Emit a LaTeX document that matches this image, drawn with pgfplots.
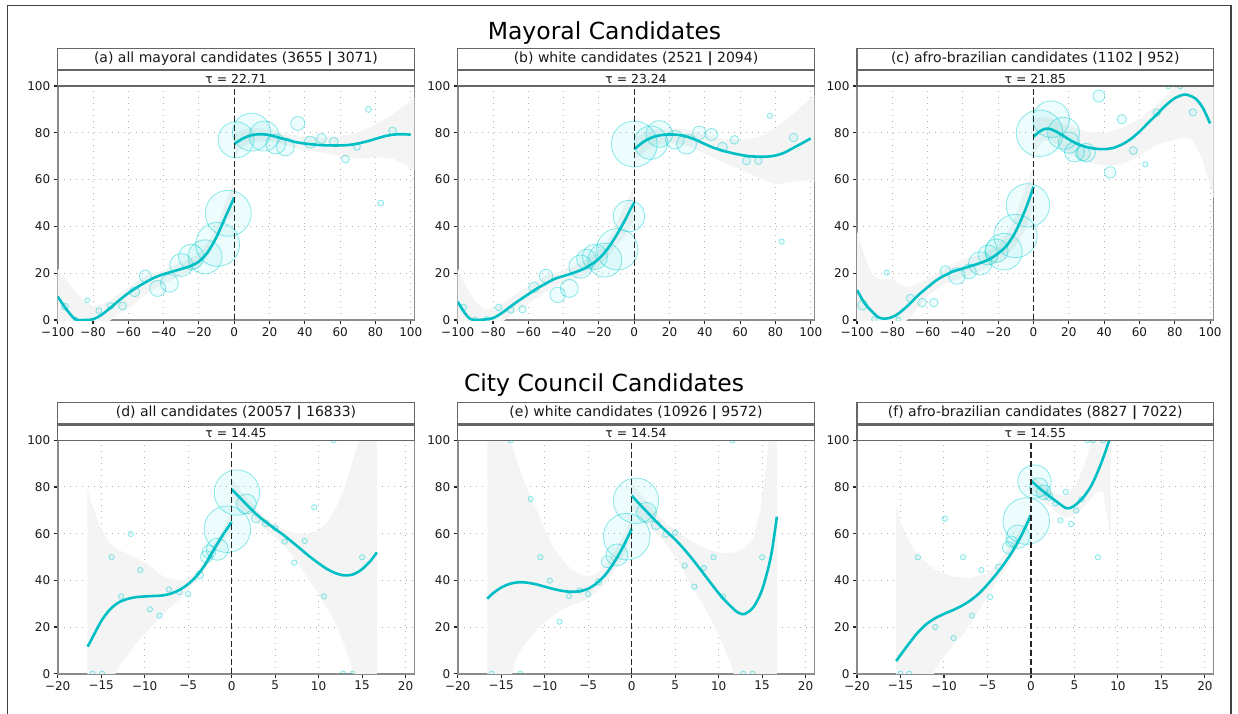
\documentclass[border=0pt]{standalone}
\usepackage{fontspec}
\setmainfont{DejaVu Sans}
\usepackage{pgfplots}
\pgfplotsset{compat=1.18}
\definecolor{fitc}{HTML}{00BFC4}
\definecolor{bubc}{HTML}{00CED1}
\definecolor{bandc}{HTML}{F4F4F4}
\definecolor{gridc}{HTML}{B0B0B0}
\pgfplotsset{
  panel/.style={
    scale only axis, width=356.6pt, anchor=south west,
    axis line style={draw=black!45, line width=1.6pt},
    tick align=outside, xtick pos=bottom, ytick pos=left,
    major tick length=4pt,
    tick style={draw=black!85, line width=1.1pt},
    ymin=0, ymax=100, ytick={0,20,40,60,80,100}, yticklabels={0,20,40,60,80,100},
    xmajorgrids, ymajorgrids, grid style={draw=gridc, line width=1pt, dash pattern=on 1pt off 5pt},
    tick label style={font=\fontsize{12}{14}\selectfont, text=black!90},
    clip marker paths=true,
  },
  toprow/.style={height=234pt, xmin=-100, xmax=102, xtick={-100,-80,...,100},
     xticklabels={−100,−80,−60,−40,−20,0,20,40,60,80,100}},
  botrow/.style={height=233.4pt, xmin=-20, xmax=21, xtick={-20,-15,...,20},
     xticklabels={−20,−15,−10,−5,0,5,10,15,20}},
  band/.style={fill=bandc, draw=none, forget plot},
  fit/.style={color=fitc, line width=2.6pt, smooth, no marks},
  bub/.style={scatter, only marks, mark=*,
     scatter/use mapped color={draw=bubc, fill=bubc},
     visualization depends on={\thisrow{r}\as\rr},
     scatter/@pre marker code/.append style={/tikz/mark size=\rr pt},
     mark options={draw opacity=0.45, fill opacity=0.07, line width=0.8pt}},
  zline/.style={black!85, line width=1.1pt, dash pattern=on 6pt off 3pt},
}
\tikzset{strip/.style={draw=black!60, line width=1.2pt, fill=white}}
\begin{document}
\begin{tikzpicture}[x=1pt,y=1pt]
%% ---------- (a)
\begin{axis}[panel, toprow, at={(57.7pt,393pt)}]
\addplot[band] coordinates {(-100,22)(-95,17)(-90,12)(-85,8)(-80,6)(-75,7)(-70,8.5)(-60,14)(-50,19)(-40,21.5)(-30,24.5)(-20,28)(-15,33)(-10,39.5)(-5,50)(0,60)
 (0,45)(-5,42)(-10,35)(-15,27)(-20,22)(-30,19)(-40,15.5)(-50,11)(-60,5)(-70,0)(-80,-5)(-90,-5)(-100,-5)};
\addplot[band] coordinates {(0,80)(5,81)(10,82)(15,82)(20,81.5)(30,79.5)(40,78.5)(50,78)(60,78.5)(70,80)(80,83.5)(90,88)(100,94)(102,95)
 (102,64)(100,65)(90,69)(80,69.5)(70,69)(60,70)(50,71.5)(40,72.5)(30,74.5)(20,76.5)(10,76)(5,74)(0,70)};
\addplot[bub] table[row sep=\\] {x y r\\
1 77 18\\ 9.8 80.3 19\\ 16.9 78.6 15\\ 23.5 75.2 10\\ 29 74 9\\ 36 84 7\\ 43 76 6\\ 49.4 77.6 5\\ 56.4 76.2 4.5\\ 63 68.8 4\\ 69.5 74 3.5\\ 76 90 3\\ 83 50 3\\ 89.7 80.8 4\\
-3.4 45.6 23\\ -9.4 32.3 22\\ -16.5 27 17\\ -24.4 27 12.7\\ -30 23.5 11.5\\ -36.7 15.7 9\\ -43.4 13.5 8\\ -50.4 18.8 6\\ -56.4 12 5\\ -63.3 6 4\\ -70 6 3.5\\ -76.7 4 3\\ -83.3 8.4 2.5\\ -89.7 0.3 2\\ -95.9 5.7 3.5\\
};
\addplot[fit] coordinates {(-100,10)(-95,4.5)(-90,0.3)(-85,0)(-80,0.3)(-75,2.3)(-70,5.3)(-65,8.5)(-60,11.5)(-55,14)(-50,16.2)(-45,18.2)(-40,19.6)(-35,20.7)(-30,21.8)(-25,23)(-20,25)(-15,29)(-10,35.5)(-5,44)(-2,49)(0,52.4)};
\addplot[fit] coordinates {(0,75.2)(5,77.6)(10,79)(15,79.4)(20,79)(25,78)(30,77)(35,76)(40,75.4)(45,75)(50,74.7)(55,74.6)(60,74.6)(65,74.8)(70,75.4)(75,76.3)(80,77.4)(85,78.5)(90,79.2)(95,79.4)(100,79.2)};
\addplot[zline] coordinates {(0,0)(0,100)};
\end{axis}
%% ---------- (b)
\begin{axis}[panel, toprow, at={(457.7pt,393pt)}]
\addplot[band] coordinates {(-100,22)(-95,14)(-90,8)(-85,4.5)(-80,5)(-75,7)(-70,9.5)(-60,14.5)(-50,19)(-40,21.5)(-30,24.5)(-20,30)(-15,34)(-10,41)(-5,50)(0,57)
 (0,43)(-5,36)(-10,31.5)(-15,27)(-20,22.5)(-30,18.3)(-40,16)(-50,12)(-60,7)(-70,2)(-80,-4)(-100,-4)};
\addplot[band] coordinates {(0,78)(10,81)(20,82)(30,81.5)(40,79)(50,77.5)(60,77)(70,78)(80,82)(90,88)(100,95)(102,96)
 (102,59)(100,60)(90,59)(80,58)(70,61)(60,64.5)(50,67.5)(40,71)(30,74.5)(20,76)(10,74.5)(0,68)};
\addplot[bub] table[row sep=\\] {x y r\\
-3 44.4 15.7\\ -9.6 30.2 20.7\\ -16.6 25.6 17\\ -22.3 27 12.7\\ -27 26 10\\ -30.4 22.8 11.7\\ -36.8 13.5 9\\ -43.4 10.7 7.7\\ -50 18.8 6.7\\ -56.8 14 5.3\\ -63.3 4.6 3.7\\ -70 4.3 3.3\\ -76.8 5.4 3.3\\ -83.6 0.3 2.7\\ -90.2 0.3 2.3\\ -96.8 5.4 3.3\\
0 75.2 23\\ 9.4 75.8 16.7\\ 14.2 79.5 13.3\\ 23 77 9.3\\ 29.6 75.2 10\\ 36.8 80 6.7\\ 43.8 79.3 6\\ 50 73.8 5\\ 56.8 77 4.3\\ 63.6 68 4\\ 70.3 68 3.7\\ 76.9 87.3 2.7\\ 83.5 33.5 2.7\\ 90.2 78 4.3\\
};
\addplot[fit] coordinates {(-100,7.8)(-96,3)(-93,0.5)(-90,0)(-85,0.2)(-80,0.8)(-75,3)(-70,5.8)(-65,8.5)(-60,11)(-55,13.5)(-50,15.6)(-45,17.6)(-40,18.8)(-35,20)(-30,21.4)(-25,23.4)(-20,26.2)(-15,30.5)(-10,36.3)(-5,43)(-2,47.5)(0,50.1)};
\addplot[fit] coordinates {(0,73)(5,76)(10,78)(15,79)(20,79.3)(25,79.1)(30,78.3)(35,76.9)(40,75.2)(45,73.6)(50,72.4)(55,71.4)(60,70.6)(65,70)(70,69.8)(75,69.8)(80,70.3)(85,71.5)(90,73.5)(95,75.5)(100,77.6)};
\addplot[zline] coordinates {(0,0)(0,100)};
\end{axis}
%% ---------- (c)
\begin{axis}[panel, toprow, at={(857pt,393pt)}]
\addplot[band] coordinates {(-100,38)(-96,28)(-92,20)(-88,17.5)(-84,17.5)(-80,17.5)(-75,15)(-70,14)(-60,17.5)(-50,22.5)(-40,26)(-30,27.8)(-20,32)(-15,37)(-10,45)(-5,56)(0,65)
 (0,48)(-5,38)(-10,32)(-15,28)(-20,24.5)(-30,21)(-40,18)(-50,15.5)(-60,10.5)(-70,1)(-80,-5)(-100,-5)};
\addplot[band] coordinates {(0,86)(5,87)(10,86)(20,83)(30,80.5)(40,80)(50,82)(60,86)(70,92)(80,100)(102,110)
 (102,52)(100,58)(95,70)(90,77)(85,78)(80,77)(70,75)(60,70)(50,66.5)(40,66)(30,67.5)(20,71)(10,77)(5,76.5)(0,71)};
\addplot[bub] table[row sep=\\] {x y r\\
-3.2 49 21.7\\ -10.2 35.9 21.7\\ -16.8 29.2 18.3\\ -21 29.6 11.7\\ -25.8 27.8 10\\ -30.2 24.2 11.7\\ -36.6 20.7 7.3\\ -43.4 18.8 8.3\\ -50 21 5.3\\ -56.5 7.4 4.3\\ -63.1 7.4 4.3\\ -69.7 9.3 4\\ -76.6 0.3 2.3\\ -83.2 20.2 2.7\\ -90.2 0.3 2.7\\ -96.8 6.4 5\\
3.4 79.8 23.3\\ 10 85.8 18.3\\ 17 79.8 16\\ 20 75.8 10.7\\ 23.2 71.8 10\\ 27.9 71.2 7.3\\ 29.8 71.5 9.3\\ 37 95.7 6\\ 43.4 63.1 5.7\\ 50 85.8 4.7\\ 56.5 72.4 4\\ 63.3 66.5 2.7\\ 69.9 88.7 3.7\\ 76.5 99.7 2.3\\ 83.1 99.7 2.3\\ 90.2 88.7 3.7\\
};
\addplot[fit] coordinates {(-100,12.8)(-96,7.5)(-92,4)(-88,1.2)(-85,0.6)(-82,0.8)(-78,2)(-74,4.3)(-70,7)(-65,10.8)(-60,14)(-55,17)(-50,19.2)(-45,20.9)(-40,22)(-35,23.2)(-30,24.4)(-25,26)(-20,28.5)(-15,32)(-10,38)(-5,46.5)(-2,52.5)(0,57)};
\addplot[fit] coordinates {(0,78.3)(3,80.3)(6,81.6)(9,81.7)(12,80.8)(15,79.6)(20,77.2)(25,75.2)(30,73.9)(35,73.2)(40,73)(45,73.5)(50,75)(55,77.3)(60,80.5)(65,84.3)(70,88)(75,91.8)(80,94.8)(85,96.3)(88,96)(92,94.5)(96,90.5)(100,84)};
\addplot[zline] coordinates {(0,0)(0,100)};
\end{axis}
%% ---------- (d)
\begin{axis}[panel, botrow, at={(57.7pt,39.3pt)}]
\addplot[band] coordinates {(-16.6,79)(-16,72)(-15,62)(-14,56)(-13,53)(-12,51.5)(-11,49.5)(-10,47.5)(-9,45)(-8,42)(-7,40.5)(-6,40)(-5,40.5)(-4,43.5)(-3,49)(-2,55.5)(-1,62)(0,69)
 (0,61)(-1,57)(-2,51.5)(-3,45)(-4,40.5)(-5,36)(-6,32)(-7,28.5)(-8,25)(-9,21)(-10,17)(-11,13)(-12,8)(-13,3)(-14,-5)(-16.6,-5)};
\addplot[band] coordinates {(0,84)(1,78.5)(2,74)(3,70)(4,66.5)(5,64)(6,62)(7,60.5)(8,60)(9,60)(10,61.5)(11,65)(12,71)(13,80)(14,92)(15,105)(16.7,110)
 (16.7,-5)(15,-5)(14,0)(13,12)(12,21)(11,28)(10,34)(9,39.5)(8,45)(7,50.5)(6,55)(5,58.5)(4,61.5)(3,64.5)(2,68)(1,71)(0,74)};
\addplot[bub] table[row sep=\\] {x y r\\
-0.5 61.9 23.3\\ -1.65 53.3 11\\ -2.6 52.3 6.7\\ -2.9 50.1 6\\ -3.7 42.3 4\\ -5 34.1 2.7\\ -6 34.9 2.7\\ -7.2 36.1 2.7\\ -8.3 24.9 2.7\\ -9.4 27.6 2.7\\ -10.5 44.4 2.7\\ -11.6 59.9 2.7\\ -12.7 33.1 2.7\\ -13.8 49.9 2.7\\ -14.9 0 2.7\\ -16 0 2.7\\
0.6 77.6 22.7\\ 1.7 72.7 10\\ 2.8 66.6 4.7\\ 3.9 64.4 3.3\\ 5 62.4 2.7\\ 6.1 56.6 2.7\\ 7.2 47.6 2.7\\ 8.4 56.9 2.7\\ 9.5 71.3 2.7\\ 10.6 33.1 2.7\\ 11.7 100 2.7\\ 12.8 0 2.7\\ 13.9 0 2.7\\ 15 49.9 2.7\\
};
\addplot[fit] coordinates {(-16.55,11.6)(-16,15.5)(-15,22.5)(-14,27.5)(-13,30.5)(-12,32)(-11,32.8)(-10,33.1)(-9,33.3)(-8,33.5)(-7,34.3)(-6,35.9)(-5,38.4)(-4,42)(-3,47)(-2,53.5)(-1,59.5)(0,65)};
\addplot[fit] coordinates {(0,79)(1,75.2)(2,71.4)(3,67.8)(4,64.8)(5,62)(6,59.3)(7,56.3)(8,53.2)(9,50.1)(10,47.3)(11,44.8)(12,43)(13,42.1)(14,42.6)(15,44.8)(16,48.5)(16.7,52)};
\addplot[zline] coordinates {(0,0)(0,100)};
\end{axis}
%% ---------- (e)
\begin{axis}[panel, botrow, at={(457.7pt,39.3pt)}]
\addplot[band] coordinates {(-16.6,110)(-14.5,105)(-13.5,95)(-12.8,87)(-12,79)(-11,71)(-10,62)(-9,54)(-8,49)(-7,45)(-6,42.5)(-5,41.6)(-4,43)(-3,47)(-2,52)(-1,59)(0,67)
 (0,58)(-1,50)(-2,44)(-3,38.5)(-4,35)(-5,32)(-6,30.5)(-7,29.4)(-8,27.5)(-9,25)(-10,22)(-11,18.5)(-12,14)(-12.8,10)(-13.5,4)(-14,-5)(-16.6,-5)};
\addplot[band] coordinates {(0,82)(1,77)(2,72.5)(3,68)(4,64.5)(5,61.5)(6,59)(7,56.5)(8,54.5)(9,53)(10,52)(11,51.5)(12,52)(13,54)(14,58)(14.8,70)(15.5,90)(16,110)(16.7,110)
 (16.7,-5)(12,-5)(11.6,2)(11,8)(10,17)(9,24)(8,31)(7,37)(6,43.5)(5,50)(4,55.5)(3,59.5)(2,63)(1,66.5)(0,70)};
\addplot[bub] table[row sep=\\] {x y r\\
-0.57 58.7 23.3\\ -1.7 50.9 11\\ -2.8 48 6\\ -3.8 39.4 3.3\\ -5 34.1 2.7\\ -6 35.6 2.7\\ -7.2 33.3 2.7\\ -8.3 22.3 2.7\\ -9.4 39.9 2.7\\ -10.5 49.9 2.7\\ -11.6 74.9 2.7\\ -12.8 0 2.7\\ -13.9 100 2.7\\ -16.1 0 2.7\\
0.5 74.1 22.7\\ 1.7 69.1 10\\ 2.8 63.7 4.7\\ 3.9 59.7 3\\ 5 60.4 2.7\\ 6.1 46.3 2.7\\ 7.2 37.3 2.7\\ 8.3 45.3 2.7\\ 9.4 49.9 2.7\\ 10.5 33.1 2.7\\ 11.6 100 2.7\\ 12.8 0 2.7\\ 13.9 0 2.7\\ 15 49.9 2.7\\
};
\addplot[fit] coordinates {(-16.6,32.1)(-16,34.3)(-15,36.9)(-14,38.5)(-13,39.2)(-12,39)(-11,38.3)(-10,37.3)(-9,36.3)(-8,35.5)(-7,35.1)(-6,35.3)(-5,36.4)(-4,38.8)(-3,42.5)(-2,47.8)(-1,54.3)(0,62)};
\addplot[fit] coordinates {(0,76.3)(1,72.3)(2,68.4)(3,64.5)(4,61)(5,57.5)(6,53.5)(7,49)(8,44.2)(9,39.3)(10,34.5)(11,30.3)(12,26.8)(12.5,25.8)(13,25.6)(14,28.5)(15,36)(16,50)(16.7,67.3)};
\addplot[zline] coordinates {(0,0)(0,100)};
\end{axis}
%% ---------- (f)
\begin{axis}[panel, botrow, at={(857pt,39.3pt)}]
\addplot[band] coordinates {(-15.5,72)(-15,65)(-14.3,58.7)(-13.5,53.5)(-12.8,50)(-11,44.5)(-9,41.6)(-7,41)(-5,43)(-4,46.5)(-3,51.5)(-2,57)(-1,63)(0,70)
 (0,66)(-1,58)(-2,51)(-3,44)(-4,39)(-5,33)(-6,27)(-7,21)(-8,16)(-9,12)(-10,7)(-11,2)(-11.5,-5)(-15.5,-5)};
\addplot[band] coordinates {(0,86)(1,82)(2,79)(3,77)(4,76)(5,80)(6,88)(7,100)(7.5,110)(9.2,110)
 (9.2,60)(9,62)(8.6,70)(8.3,78)(7.5,78)(7,75.5)(6,71)(5,68)(4,66.5)(3,69)(2,72)(1,76)(0,79)};
\addplot[bub] table[row sep=\\] {x y r\\
-0.54 65.4 23.3\\ -1.5 58.7 11.7\\ -2.25 56.6 5.7\\ -2.6 54 6\\ -3.7 45.6 3.3\\ -4.7 32.9 2.7\\ -5.7 44.4 2.7\\ -6.8 24.9 2.7\\ -7.8 49.9 2.7\\ -8.9 15.3 2.7\\ -9.9 66.4 2.7\\ -11 20 2.7\\ -13 49.9 2.7\\ -14 0 2.7\\ -15 0 2.7\\
0.4 82.3 16.7\\ 0.9 79.9 9.3\\ 1.45 77.7 7.3\\ 2.1 75.9 4\\ 2.8 73 2.7\\ 3.4 65.7 2.7\\ 4 77.9 2.7\\ 4.6 64.1 2.7\\ 5.2 69.9 2.7\\ 5.8 74.7 2.7\\ 6.5 100 2.7\\ 7.1 100 2.7\\ 7.7 49.9 2.7\\ 8.3 100 2.7\\
};
\addplot[fit] coordinates {(-15.5,5.4)(-15,8)(-14,13)(-13,17.7)(-12,21.3)(-11,23.8)(-10,25.6)(-9,27.2)(-8,29)(-7,31.3)(-6,34.3)(-5,38.2)(-4,42.6)(-3,47.5)(-2,53.2)(-1,60)(0,68)};
\addplot[fit] coordinates {(0,82.7)(1,79.4)(2,76.4)(3,73.6)(3.5,72.2)(4,71)(4.5,71)(5,72)(5.5,73.6)(6,75.5)(6.5,78)(7,81)(7.5,85)(8,89.5)(8.5,94.5)(9,100)(9.2,102)};
\addplot[zline] coordinates {(0,0)(0,100)};
\end{axis}
%% ---------- strips and titles
\draw[strip] (57.7,664.7) rectangle (414.3,643.5);
\draw[strip] (57.7,642.3) rectangle (414.3,627);
\draw[strip] (457.7,664.7) rectangle (814.3,643.5);
\draw[strip] (457.7,642.3) rectangle (814.3,627);
\draw[strip] (857,664.7) rectangle (1213.6,643.5);
\draw[strip] (857,642.3) rectangle (1213.6,627);
\draw[strip] (57.7,310.5) rectangle (414.3,289);
\draw[strip] (57.7,287.8) rectangle (414.3,272.7);
\draw[strip] (457.7,310.5) rectangle (814.3,289);
\draw[strip] (457.7,287.8) rectangle (814.3,272.7);
\draw[strip] (857,310.5) rectangle (1213.6,289);
\draw[strip] (857,287.8) rectangle (1213.6,272.7);
\begin{scope}[every node/.style={font=\fontsize{14}{16}\selectfont, text=black!90, inner sep=0pt}]
\node at (236,654.1) {(a) all mayoral candidates (3655 {\bfseries|} 3071)};
\node at (636,654.1) {(b) white candidates (2521 {\bfseries|} 2094)};
\node at (1035.3,654.1) {(c) afro-brazilian candidates (1102 {\bfseries|} 952)};
\node at (236,299.7) {(d) all candidates (20057 {\bfseries|} 16833)};
\node at (636,299.7) {(e) white candidates (10926 {\bfseries|} 9572)};
\node at (1035.3,299.7) {(f) afro-brazilian candidates (8827 {\bfseries|} 7022)};
\end{scope}
\begin{scope}[every node/.style={font=\fontsize{12.4}{14}\selectfont, text=black!90, inner sep=0pt}]
\node at (236,634.5) {τ = 22.71};
\node at (636,634.5) {τ = 23.24};
\node at (1035.3,634.5) {τ = 21.85};
\node at (236,279.9) {τ = 14.45};
\node at (636,279.9) {τ = 14.54};
\node at (1035.3,279.9) {τ = 14.55};
\end{scope}
\node[font=\fontsize{23.5}{26}\selectfont, anchor=base, inner sep=0pt] at (604.5,673) {Mayoral Candidates};
\node[font=\fontsize{23.5}{26}\selectfont, anchor=base, inner sep=0pt] at (604,321.3) {City Council Candidates};
\draw[black!75, line width=1.3pt] (7.3,707.3) rectangle (1231,-10);
\pgfresetboundingbox
\path[use as bounding box] (0,0) rectangle (1238,713);
\end{tikzpicture}
\end{document}
